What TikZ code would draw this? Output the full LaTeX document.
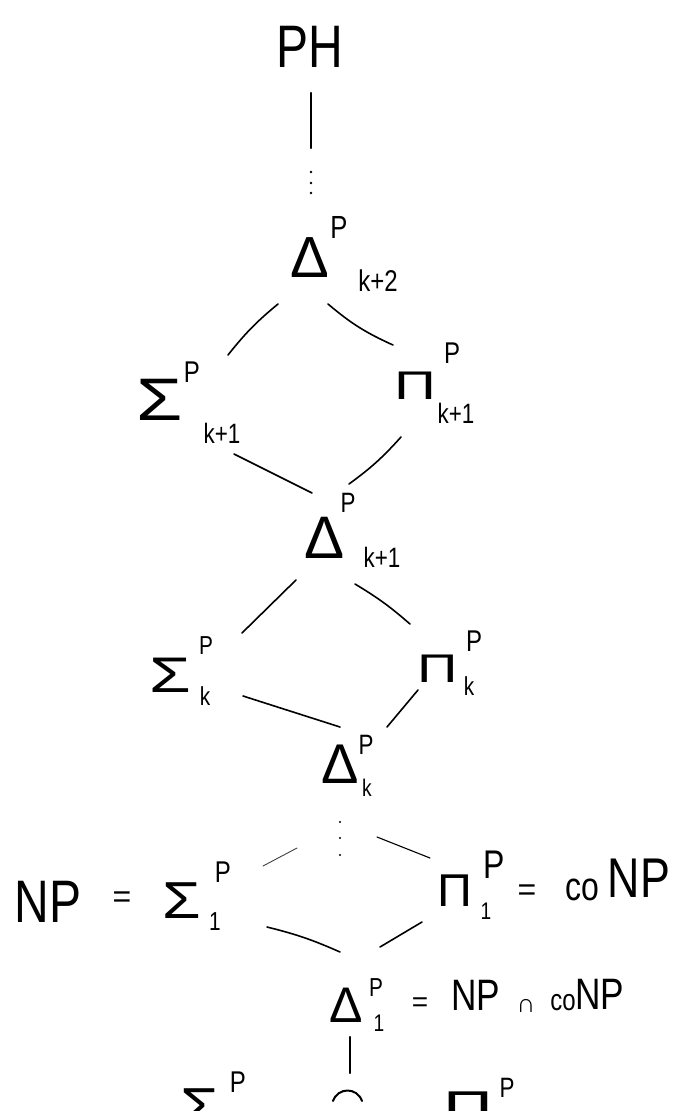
\documentclass[tikz,border=0pt]{standalone}
\usepackage{fontspec}
\usepackage{graphicx}
\setmainfont{Liberation Sans}
\newfontfamily\nar[FakeStretch=0.8]{Liberation Sans}
\begin{document}
\begin{tikzpicture}[x=1pt,y=-1pt,
  sym/.style={inner sep=0pt, font=\fontsize{#1}{#1}\selectfont},
  wrd/.style={inner sep=0pt, font=\nar\fontsize{#1}{#1}\selectfont},
  conn/.style={line width=1.6pt, line cap=round},
  faint/.style={line width=0.9pt, line cap=round, black!75},
  thick conn/.style={line width=2.4pt, line cap=round},
  dotmark/.style={circle, fill, inner sep=0pt, minimum size=2.6pt}]
\useasboundingbox (0,0) rectangle (683,1111);
\clip (0,0) rectangle (683,1111);

% top
\node[wrd=60] (ph) at (310,47) {PH};
\coordinate (pha) at (311,93);
\coordinate (phb) at (311,148);
\draw[thick conn] (pha) -- (phb);
\node[dotmark] (ta) at (311,172) {};
\node[dotmark] (tb) at (311,183) {};
\node[dotmark] (tc) at (311,193) {};

% Delta k+2
\node[sym=58] (d2) at (310,258) {Δ};
\node[wrd=32] (d2p) at (339,227) {P};
\node[wrd=30] (d2s) at (378,281) {k+2};

% Sigma k+1, Pi k+1
\node[sym=60] (s1) at (160,400) {\scalebox{1.25}[1]{Σ}};
\node[wrd=30] (s1p) at (192,372) {P};
\node[wrd=28] (s1s) at (222,433) {k+1};
\node[sym=40] (p1) at (415,386) {\scalebox{1.45}[1]{Π}};
\node[wrd=30] (p1p) at (452,353) {P};
\node[wrd=28] (p1s) at (456,413) {k+1};

% Delta k+1
\node[sym=60] (d1) at (325,538) {Δ};
\node[wrd=28] (d1p) at (348,503) {P};
\node[wrd=28] (d1s) at (382,557) {k+1};

% Sigma k, Pi k
\node[sym=50] (s0) at (170,675) {\scalebox{1.35}[1]{Σ}};
\node[wrd=26] (s0p) at (206,646) {P};
\node[wrd=26] (s0s) at (205,696) {k};
\node[sym=40] (p0) at (438,669) {\scalebox{1.4}[1]{Π}};
\node[wrd=30] (p0p) at (474,641) {P};
\node[wrd=26] (p0s) at (469,686) {k};

% Delta k
\node[sym=56] (dk) at (340,764) {Δ};
\node[wrd=28] (dkp) at (366,745) {P};
\node[wrd=24] (dks) at (367,788) {k};
\node[dotmark, minimum size=2.2pt] (ua) at (340,822) {};
\node[dotmark, minimum size=2.2pt] (ub) at (340,838) {};
\node[dotmark, minimum size=2.2pt] (uc) at (340,855) {};

% NP = Sigma 1
\node[wrd=60] (np) at (48,902) {NP};
\node[sym=32] (eqa) at (122,900) {=};
\node[sym=52] (sg) at (182,901) {\scalebox{1.2}[1]{Σ}};
\node[wrd=30] (sgp) at (223,872) {P};
\node[wrd=26] (sgs) at (215,922) {1};

% Pi 1 = coNP
\node[sym=46] (pg) at (455,891) {\scalebox{1.05}[1]{Π}};
\node[wrd=40] (pgp) at (494,865) {P};
\node[wrd=24] (pgs) at (486,911) {1};
\node[sym=32] (eqb) at (527,893) {=};
\node[wrd=40] (co) at (582,890) {co};
\node[wrd=56] (conp) at (639,878) {NP};

% Delta 1 = NP cap coNP
\node[sym=50] (dg) at (346,1005) {Δ};
\node[wrd=26] (dgp) at (376,988) {P};
\node[wrd=24] (dgs) at (379,1023) {1};
\node[sym=28] (eqc) at (420,1005) {=};
\node[wrd=44] (np2) at (476,995) {NP};
\node[sym=26] (cap) at (526,1006) {∩};
\node[wrd=30] (co2) at (563,1003) {co};
\node[wrd=44] (np3) at (600,994) {NP};

% bottom row (cut off)
\node[sym=52] (sz) at (200,1107) {\scalebox{1.2}[1]{Σ}};
\node[wrd=30] (szp) at (238,1082) {P};
\node[sym=46] (pz) at (468,1108) {\scalebox{1.5}[1]{Π}};
\node[wrd=28] (pzp) at (507,1088) {P};
\coordinate (arca) at (333,1101);
\coordinate (arcb) at (362,1101);
\draw[conn, line width=2pt] (arca) .. controls (338,1087) and (357,1087) .. (arcb);

% connectors
\coordinate (l1a) at (278,304); \coordinate (l1b) at (228,355);
\coordinate (l2a) at (328,304); \coordinate (l2b) at (393,345);
\coordinate (l3a) at (234,454); \coordinate (l3b) at (312,493);
\coordinate (l4a) at (401,437); \coordinate (l4b) at (349,484);
\coordinate (l5a) at (296,580); \coordinate (l5b) at (242,633);
\coordinate (l6a) at (355,584); \coordinate (l6b) at (410,624);
\coordinate (l7a) at (243,696); \coordinate (l7b) at (340,727);
\coordinate (l8a) at (418,690); \coordinate (l8b) at (387,727);
\coordinate (l9a) at (297,848); \coordinate (l9b) at (263,866);
\coordinate (l10a) at (377,837); \coordinate (l10b) at (430,858);
\coordinate (l11a) at (267,927); \coordinate (l11b) at (340,952);
\coordinate (l12a) at (422,922); \coordinate (l12b) at (380,947);
\coordinate (l13a) at (350,1037); \coordinate (l13b) at (350,1073);

\draw[conn] (l1a) to[bend right=6] (l1b);
\draw[conn] (l2a) to[bend right=8] (l2b);
\draw[conn] (l3a) -- (l3b);
\draw[conn] (l4a) to[bend left=6] (l4b);
\draw[conn] (l5a) -- (l5b);
\draw[conn] (l6a) to[bend left=5] (l6b);
\draw[conn] (l7a) -- (l7b);
\draw[conn] (l8a) -- (l8b);
\draw[faint] (l9a) -- (l9b);
\draw[conn, line width=1.1pt] (l10a) -- (l10b);
\draw[conn] (l11a) to[bend left=5] (l11b);
\draw[conn] (l12a) -- (l12b);
\draw[thick conn] (l13a) -- (l13b);
\end{tikzpicture}
\end{document}
